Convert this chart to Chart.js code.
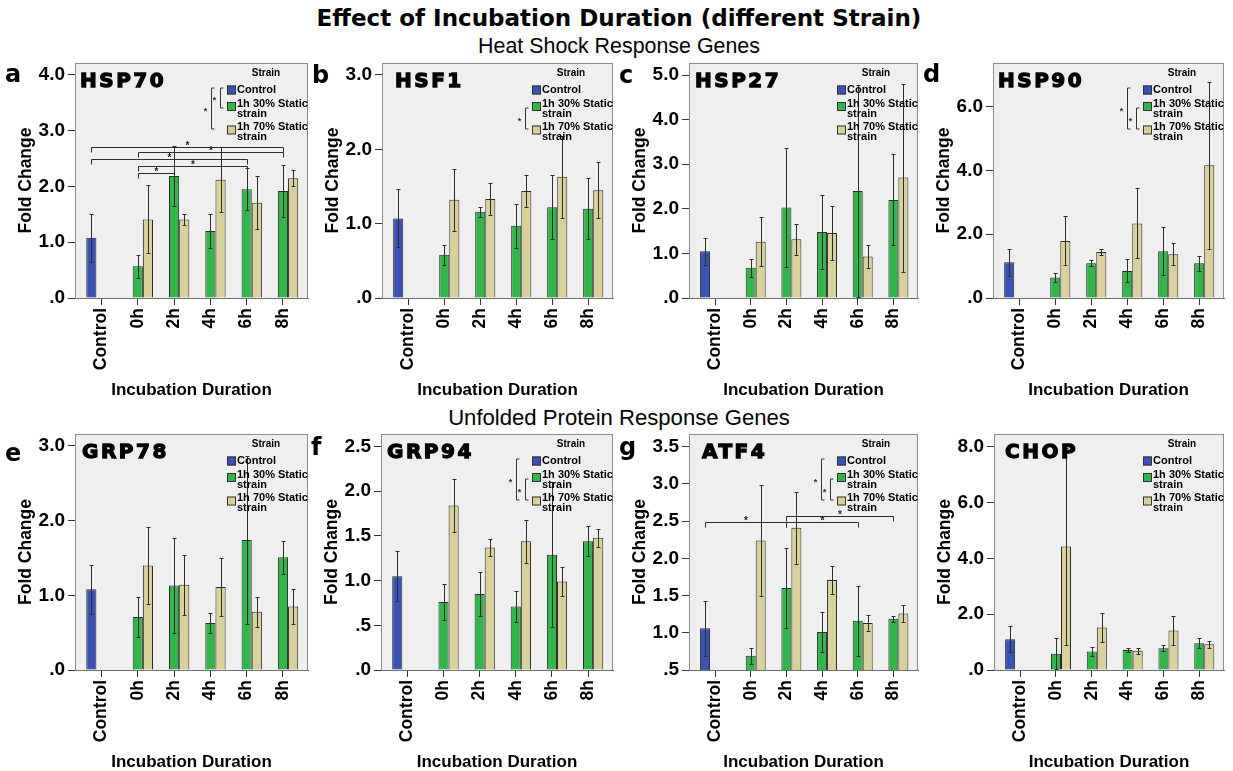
<!DOCTYPE html>
<html>
<head>
<meta charset="utf-8">
<script src="https://cdn.jsdelivr.net/npm/chart.js@4.4.1/dist/chart.umd.min.js"></script>
<style>
    body { margin: 0; background: #fff; width: 1233px; height: 771px; overflow: hidden; position: relative; font-family: "Liberation Sans", Arial, sans-serif; }
    canvas { position: absolute; }
    .hdr { position: absolute; white-space: nowrap; line-height: 1.15; color: #000; }
    #mainTitle { font: bold 23px "DejaVu Sans", sans-serif; }
    #subHeat, #subUpr { font: 20px "Liberation Sans", Arial, sans-serif; }
</style>
</head>
<body>
<span id="mainTitle" class="hdr">Effect of Incubation Duration (different Strain)</span>
<span id="subHeat" class="hdr">Heat Shock Response Genes</span>
<span id="subUpr" class="hdr">Unfolded Protein Response Genes</span>

<script>
// Data
const categories = ['Control', '0h', '2h', '4h', '6h', '8h'];
const seriesNames = ['Control', '1h 30% Static strain', '1h 70% Static strain'];
const seriesColors = ['#3b52b4', '#34b54b', '#d8d19c'];
const genes = ['HSP70', 'HSF1', 'HSP27', 'HSP90', 'GRP78', 'GRP94', 'ATF4', 'CHOP'];
const letters = ['a', 'b', 'c', 'd', 'e', 'f', 'g', ''];

// control bar per gene (mean, error half-width)
const controlMean = [1.08, 1.07, 1.05, 1.12, 1.08, 1.05, 1.06, 1.10];
const controlErr = [0.43, 0.39, 0.30, 0.43, 0.33, 0.28, 0.37, 0.46];

// 0h, 2h, 4h, 6h, 8h
const hsp70Mean30 = [0.57, 2.19, 1.20, 1.95, 1.92];
const hsp70Err30 = [0.21, 0.54, 0.30, 0.38, 0.46];
const hsp70Mean70 = [1.41, 1.41, 2.12, 1.71, 2.15];
const hsp70Err70 = [0.61, 0.10, 0.58, 0.48, 0.14];

const hsf1Mean30 = [0.58, 1.16, 0.97, 1.22, 1.20];
const hsf1Err30 = [0.13, 0.07, 0.30, 0.43, 0.41];
const hsf1Mean70 = [1.32, 1.33, 1.44, 1.63, 1.45];
const hsf1Err70 = [0.42, 0.22, 0.21, 0.55, 0.38];

const hsp27Mean30 = [0.68, 2.03, 1.48, 2.40, 2.20];
const hsp27Err30 = [0.20, 1.34, 0.82, 2.38, 1.02];
const hsp27Mean70 = [1.26, 1.32, 1.46, 0.93, 2.70];
const hsp27Err70 = [0.55, 0.35, 0.60, 0.26, 2.11];

const hsp90Mean30 = [0.64, 1.09, 0.85, 1.47, 1.09];
const hsp90Err30 = [0.14, 0.09, 0.36, 0.75, 0.24];
const hsp90Mean70 = [1.79, 1.44, 2.34, 1.37, 4.16];
const hsp90Err70 = [0.77, 0.09, 1.10, 0.34, 2.62];

const grp78Mean30 = [0.71, 1.13, 0.63, 1.74, 1.51];
const grp78Err30 = [0.27, 0.64, 0.13, 1.13, 0.22];
const grp78Mean70 = [1.40, 1.14, 1.11, 0.78, 0.85];
const grp78Err70 = [0.51, 0.40, 0.39, 0.20, 0.23];

const grp94Mean30 = [0.76, 0.85, 0.71, 1.29, 1.44];
const grp94Err30 = [0.20, 0.25, 0.17, 0.81, 0.17];
const grp94Mean70 = [1.84, 1.37, 1.44, 0.99, 1.48];
const grp94Err70 = [0.30, 0.10, 0.24, 0.16, 0.10];

const atf4Mean30 = [0.69, 1.60, 1.01, 1.16, 1.19];
const atf4Err30 = [0.11, 0.54, 0.27, 0.47, 0.04];
const atf4Mean70 = [2.24, 2.41, 1.71, 1.13, 1.26];
const atf4Err70 = [0.74, 0.48, 0.19, 0.11, 0.11];

const chopMean30 = [0.58, 0.66, 0.72, 0.78, 0.96];
const chopErr30 = [0.56, 0.17, 0.07, 0.11, 0.17];
const chopMean70 = [4.42, 1.52, 0.69, 1.41, 0.92];
const chopErr70 = [3.52, 0.51, 0.10, 0.53, 0.12];

// y tick values
const hsp70Ticks = [0, 1, 2, 3, 4];
const hsf1Ticks = [0, 1, 2, 3];
const hsp27Ticks = [0, 1, 2, 3, 4, 5];
const hsp90Ticks = [0, 2, 4, 6];
const grp78Ticks = [0, 1, 2, 3];
const grp94Ticks = [0, 0.5, 1, 1.5, 2, 2.5];
const atf4Ticks = [0.5, 1, 1.5, 2, 2.5, 3, 3.5];
const chopTicks = [0, 2, 4, 6, 8];

// significance: legend brackets (series pairs) and brackets over bars [fromCat, toCat, y]
const legendSig = [[[0, 1], [0, 2]], [[1, 2]], [], [[0, 2], [1, 2]], [], [[0, 2], [1, 2]], [[0, 2], [1, 2]], []];
const hsp70Sig = [[0, 5, 2.71], [1, 5, 2.61], [0, 4, 2.49], [1, 4, 2.37], [1, 2, 2.25]];
const atf4Sig = [[0, 2, 2.49], [2, 5, 2.57], [2, 4, 2.49]];

const mean30 = [hsp70Mean30, hsf1Mean30, hsp27Mean30, hsp90Mean30, grp78Mean30, grp94Mean30, atf4Mean30, chopMean30];
const err30 = [hsp70Err30, hsf1Err30, hsp27Err30, hsp90Err30, grp78Err30, grp94Err30, atf4Err30, chopErr30];
const mean70 = [hsp70Mean70, hsf1Mean70, hsp27Mean70, hsp90Mean70, grp78Mean70, grp94Mean70, atf4Mean70, chopMean70];
const err70 = [hsp70Err70, hsf1Err70, hsp27Err70, hsp90Err70, grp78Err70, grp94Err70, atf4Err70, chopErr70];
const yTicks = [hsp70Ticks, hsf1Ticks, hsp27Ticks, hsp90Ticks, grp78Ticks, grp94Ticks, atf4Ticks, chopTicks];
const barSig = [hsp70Sig, [], [], [], [], [], atf4Sig, []];

// Layout
const frames = [
    { L: 75, R: 308, T: 63, B: 298 }, { L: 382, R: 613, T: 63, B: 298 },
    { L: 689, R: 918, T: 63, B: 298 }, { L: 993, R: 1224, T: 63, B: 298 },
    { L: 75, R: 308, T: 434, B: 670 }, { L: 381, R: 613, T: 434, B: 670 },
    { L: 689, R: 918, T: 434, B: 670 }, { L: 994, R: 1224, T: 434, B: 670 }
];
const yMin = [0, 0, 0, 0, 0, 0, 0.5, 0];
const yMax = [4.215, 3.16, 5.27, 7.37, 3.16, 2.64, 3.67, 8.45];
const titleDx = [5, 13, 6, 5, 7, 6, 13, 11];
const letterDy = [19, 20, 20, 19, 27, 21, 21, 20];

const FONT = '"Liberation Sans", Arial, sans-serif';
const HEAVY = '"DejaVu Sans", sans-serif';
const AXIS_W = 75, XAXIS_H = 103;

Chart.defaults.font.family = FONT;
Chart.defaults.color = '#000';

function fmtTick(v) {
    const s = v.toFixed(1);
    return s.startsWith('0.') ? s.slice(1) : s;
}

const panelDeco = {
    id: 'panelDeco',
    beforeDraw(chart) {
        const { ctx, chartArea: a } = chart;
        ctx.save();
        ctx.fillStyle = '#efefef';
        ctx.fillRect(a.left, a.top, a.right - a.left, a.bottom - a.top);
        ctx.strokeStyle = '#8c8c8c';
        ctx.lineWidth = 1;
        ctx.strokeRect(a.left + 0.5, a.top + 0.5, a.right - a.left - 1, a.bottom - a.top);
        ctx.restore();
    },
    afterDatasetsDraw(chart, args, opts) {
        const { ctx } = chart;
        const y = chart.scales.y;
        const x = chart.scales.x;
        ctx.save();
        ctx.strokeStyle = '#2e2e2e';
        ctx.lineWidth = 1;

        // error bars
        chart.data.datasets.forEach((ds, di) => {
            const meta = chart.getDatasetMeta(di);
            meta.data.forEach((bar, j) => {
                const v = ds.data[j].y;
                const e = ds.errors[j];
                if (v == null) return;
                const yT = Math.round(y.getPixelForValue(v + e)) + 0.5;
                const yB = Math.round(y.getPixelForValue(v - e)) + 0.5;
                const bx = Math.round(bar.x) + 0.5;
                ctx.beginPath();
                ctx.moveTo(bx, yT); ctx.lineTo(bx, yB);
                ctx.moveTo(bx - 2, yT); ctx.lineTo(bx + 2, yT);
                ctx.moveTo(bx - 2, yB); ctx.lineTo(bx + 2, yB);
                ctx.stroke();
            });
        });

        // brackets over the bars
        const endX = c => c === 0 ? chart.getDatasetMeta(0).data[0].x : x.getPixelForValue(c);
        ctx.fillStyle = '#222';
        ctx.font = 'bold 10px ' + FONT;
        ctx.textAlign = 'center';
        ctx.textBaseline = 'alphabetic';
        barSig[opts.k].forEach(([c1, c2, v]) => {
            const x1 = Math.round(endX(c1)) + 0.5, x2 = Math.round(endX(c2)) + 0.5;
            const yy = Math.round(y.getPixelForValue(v)) + 0.5;
            ctx.beginPath();
            ctx.moveTo(x1, yy + 5); ctx.lineTo(x1, yy); ctx.lineTo(x2, yy); ctx.lineTo(x2, yy + 5);
            ctx.stroke();
            ctx.fillText('*', (x1 + x2) / 2, yy + 1);
        });
        ctx.restore();
    },
    afterDraw(chart, args, opts) {
        const { ctx, chartArea: a } = chart;
        const k = opts.k;
        const R = a.right, T = a.top;
        ctx.save();

        // legend
        ctx.fillStyle = '#000';
        ctx.textBaseline = 'middle';
        ctx.textAlign = 'center';
        ctx.font = 'bold 10px ' + FONT;
        ctx.fillText('Strain', R - 42, T + 10);
        const boxY = [T + 27, T + 43.5, T + 67];
        const lineY = [[T + 27], [T + 41, T + 51], [T + 64, T + 74]];
        ctx.textAlign = 'left';
        ctx.font = 'bold 11px ' + FONT;
        seriesNames.forEach((name, i) => {
            ctx.fillStyle = seriesColors[i];
            ctx.fillRect(R - 81, boxY[i] - 4.5, 9, 9);
            ctx.strokeStyle = '#333';
            ctx.lineWidth = 1;
            ctx.strokeRect(R - 80.5, boxY[i] - 4, 8, 8);
            ctx.fillStyle = '#000';
            name.replace(' strain', '\nstrain').split('\n').forEach((ln, li) => {
                ctx.fillText(ln, R - 71, lineY[i][li]);
            });
        });

        // legend significance brackets
        const anchor = [T + 25, T + 45, T + 66];
        ctx.strokeStyle = '#333';
        ctx.fillStyle = '#333';
        ctx.font = 'bold 9px ' + FONT;
        ctx.textAlign = 'center';
        ctx.textBaseline = 'alphabetic';
        legendSig[k].forEach(([s1, s2]) => {
            const bx = (s2 - s1 === 2 ? R - 97 : R - 88) + 0.5;
            const y1 = anchor[s1], y2 = anchor[s2];
            ctx.beginPath();
            ctx.moveTo(bx + 3, y1); ctx.lineTo(bx, y1); ctx.lineTo(bx, y2); ctx.lineTo(bx + 3, y2);
            ctx.stroke();
            ctx.fillText('*', bx - 6, (y1 + y2) / 2 + 5);
        });

        // gene name
        ctx.fillStyle = '#000';
        ctx.strokeStyle = '#000';
        ctx.textAlign = 'left';
        ctx.font = 'bold 20px ' + HEAVY;
        ctx.letterSpacing = '2.5px';
        ctx.lineWidth = 1.3;
        ctx.fillText(genes[k], a.left + titleDx[k], T + 24);
        ctx.strokeText(genes[k], a.left + titleDx[k], T + 24);

        // panel letter
        ctx.letterSpacing = '0px';
        ctx.font = 'bold 24px ' + HEAVY;
        if (letters[k]) ctx.fillText(letters[k], a.left - 70, T + letterDy[k]);
        ctx.restore();
    }
};

function buildPanel(k) {
    const f = frames[k];
    const top = f.T - 12;
    const left = f.L - AXIS_W;
    const w = f.R - f.L + AXIS_W + 3;
    const h = f.B + XAXIS_H - top;

    const cv = document.createElement('canvas');
    cv.width = w;
    cv.height = h;
    cv.style.left = left + 'px';
    cv.style.top = top + 'px';
    document.body.appendChild(cv);

    const bar = { categoryPercentage: 0.84, barPercentage: 1, borderColor: '#2b2b2b', borderWidth: 1 };

    new Chart(cv, {
        type: 'bar',
        data: {
            datasets: [
                { ...bar, label: seriesNames[0], backgroundColor: seriesColors[0],
                  data: [{ x: 0, y: controlMean[k] }], errors: [controlErr[k]] },
                { ...bar, label: seriesNames[1], backgroundColor: seriesColors[1],
                  data: mean30[k].map((v, i) => ({ x: i + 1, y: v })), errors: err30[k] },
                { ...bar, label: seriesNames[2], backgroundColor: seriesColors[2],
                  data: mean70[k].map((v, i) => ({ x: i + 1, y: v })), errors: err70[k] }
            ]
        },
        options: {
            responsive: false,
            animation: false,
            layout: { padding: { top: 12, right: 3, left: 0, bottom: 0 } },
            plugins: {
                legend: { display: false },
                tooltip: { enabled: false },
                panelDeco: { k }
            },
            scales: {
                x: {
                    type: 'linear',
                    min: -0.73,
                    max: 5.69,
                    offset: false,
                    afterBuildTicks: ax => { ax.ticks = categories.map((c, i) => ({ value: i })); },
                    afterFit: ax => { ax.height = XAXIS_H; ax.paddingLeft = 0; ax.paddingRight = 0; },
                    ticks: {
                        callback: v => categories[Math.round(v)],
                        minRotation: 90, maxRotation: 90, autoSkip: false,
                        color: '#000', padding: 3,
                        font: { size: 17.5, weight: 'bold' }
                    },
                    grid: { offset: false, drawOnChartArea: false, tickLength: 7, color: '#333' },
                    border: { color: '#6f6f6f' },
                    title: {
                        display: true, text: 'Incubation Duration', color: '#000',
                        font: { size: 17, weight: 'bold' }, padding: { top: 0, bottom: 0 }
                    }
                },
                y: {
                    min: yMin[k],
                    max: yMax[k],
                    afterBuildTicks: ax => { ax.ticks = yTicks[k].map(v => ({ value: v })); },
                    afterFit: ax => { ax.width = AXIS_W; ax.paddingTop = 0; ax.paddingBottom = 0; },
                    ticks: {
                        callback: v => fmtTick(v),
                        color: '#000', padding: 3,
                        font: { size: 19, weight: 'bold' }
                    },
                    grid: { drawOnChartArea: false, tickLength: 7, color: '#333' },
                    border: { color: '#8c8c8c' },
                    title: {
                        display: true, text: 'Fold Change', color: '#000',
                        font: { size: 17.5, weight: 'bold' }, padding: { top: 16, bottom: 0 }
                    }
                }
            }
        },
        plugins: [panelDeco]
    });
}

// Headers
function placeHeader(id, cx, cy, targetW) {
    const el = document.getElementById(id);
    const w0 = el.getBoundingClientRect().width;
    const fs = parseFloat(getComputedStyle(el).fontSize);
    el.style.fontSize = (fs * targetW / w0) + 'px';
    const r = el.getBoundingClientRect();
    el.style.left = (cx - r.width / 2) + 'px';
    el.style.top = (cy - r.height / 2) + 'px';
}

placeHeader('mainTitle', 619, 18, 605);
placeHeader('subHeat', 619, 46, 282);
placeHeader('subUpr', 619, 418, 342);

genes.forEach((g, k) => buildPanel(k));
</script>
</body>
</html>
